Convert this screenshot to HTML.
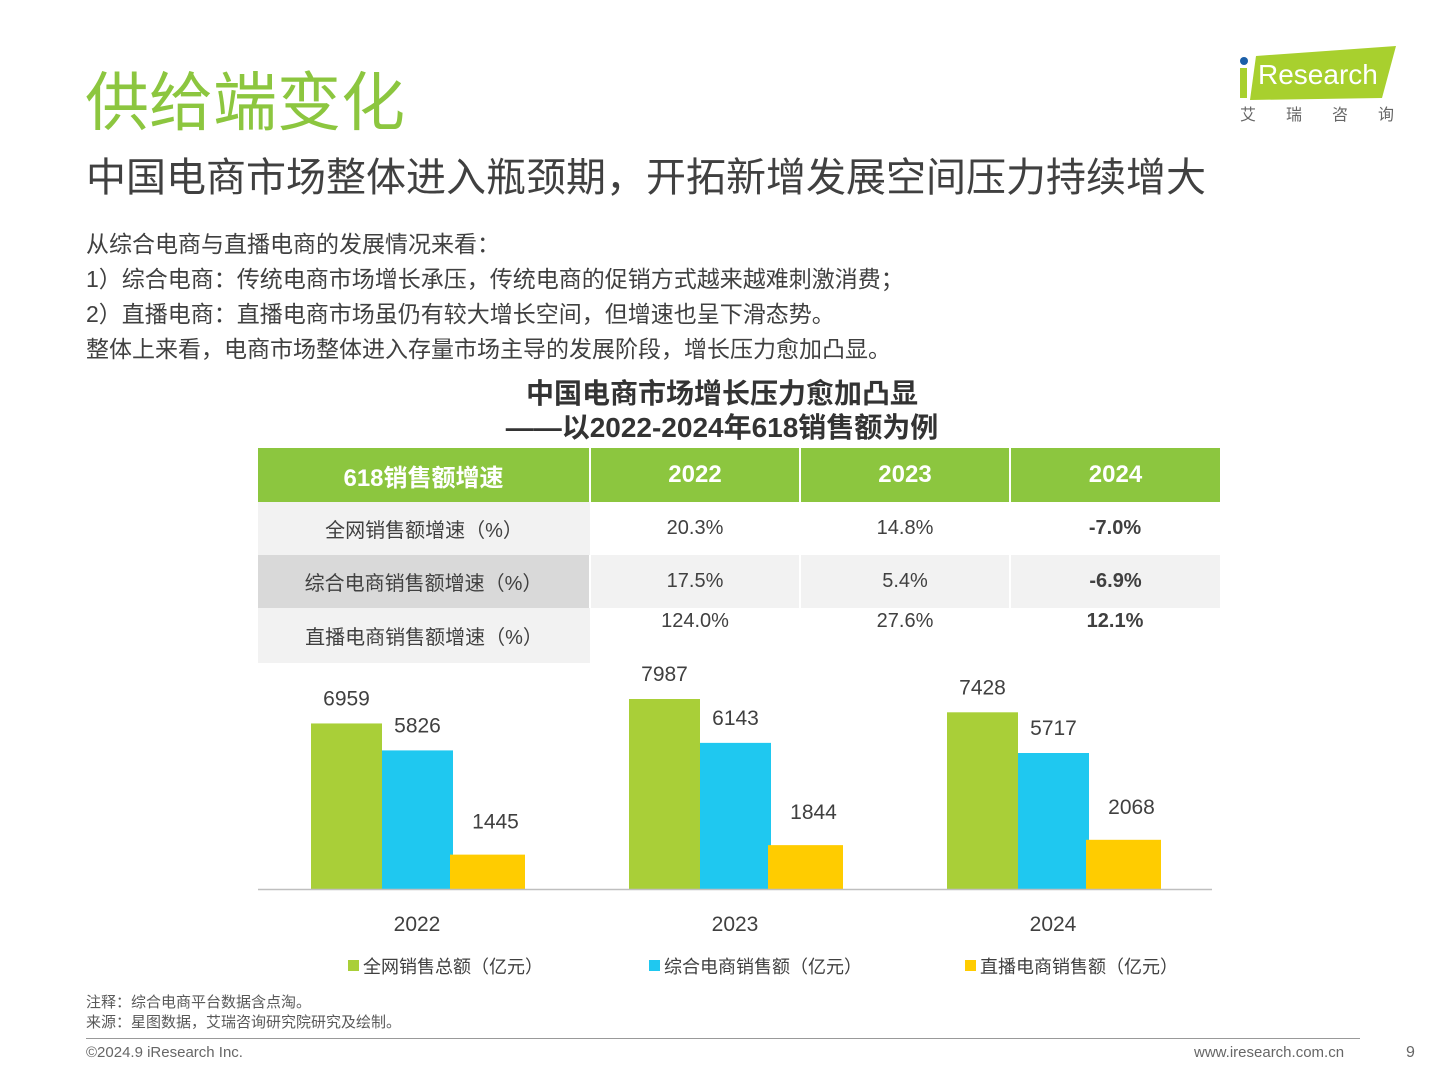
<!DOCTYPE html>
<html><head><meta charset="utf-8"><style>
body{margin:0;width:1440px;height:1080px;background:#fff;position:relative;overflow:hidden;font-family:"Liberation Sans","Noto Sans CJK SC",sans-serif;}
.a{position:absolute;white-space:nowrap;}
table{position:absolute;left:258px;top:448px;border-collapse:collapse;width:962px;table-layout:fixed;}
td{text-align:center;font-size:20px;color:#404040;height:53px;padding:0;}
th{background:#8cc63f;color:#fff;font-size:24px;height:52px;border-left:2px solid #fff;}
</style></head><body>
<div class="a" style="left:85px;top:52px;font-size:64px;color:#8cc63f;">供给端变化</div>
<div class="a" style="left:1238px;top:46px;width:162px;height:80px;">
<svg width="162" height="80"><polygon points="18,10 158,0 144,52 12,54" fill="#a8d02e"/><circle cx="6" cy="15" r="4" fill="#1b5fa8"/><rect x="2" y="22" width="7" height="30" fill="#a8d02e"/><text x="20" y="38" font-size="28" fill="#fff" font-family="Liberation Sans">Research</text><text x="2" y="74" font-size="16" fill="#666" font-family="Noto Sans CJK SC" letter-spacing="30">艾瑞咨询</text></svg></div>
<div class="a" style="left:86px;top:145px;font-size:40px;color:#404040;">中国电商市场整体进入瓶颈期，开拓新增发展空间压力持续增大</div>
<div class="a" style="left:86px;top:227px;font-size:23px;color:#404040;line-height:35px;">从综合电商与直播电商的发展情况来看：<br>1）综合电商：传统电商市场增长承压，传统电商的促销方式越来越难刺激消费；<br>2）直播电商：直播电商市场虽仍有较大增长空间，但增速也呈下滑态势。<br>整体上来看，电商市场整体进入存量市场主导的发展阶段，增长压力愈加凸显。</div>
<div class="a" style="left:0;width:1444px;text-align:center;top:377px;font-size:28px;font-weight:bold;color:#333;line-height:34px;">中国电商市场增长压力愈加凸显<br>——以2022-2024年618销售额为例</div>
<table>
<colgroup><col style="width:332px"><col style="width:210px"><col style="width:210px"><col style="width:210px"></colgroup>
<tr><th style="border-left:none">618销售额增速</th><th>2022</th><th>2023</th><th>2024</th></tr>
<tr><td style="background:#f2f2f2">全网销售额增速（%）</td><td>20.3%</td><td>14.8%</td><td style="font-weight:bold">-7.0%</td></tr>
<tr><td style="background:#d9d9d9">综合电商销售额增速（%）</td><td style="background:#f2f2f2;border-left:2px solid #fff">17.5%</td><td style="background:#f2f2f2;border-left:2px solid #fff">5.4%</td><td style="background:#f2f2f2;border-left:2px solid #fff;font-weight:bold">-6.9%</td></tr>
<tr><td style="background:#f2f2f2;height:52px">直播电商销售额增速（%）</td><td style="vertical-align:top;padding-top:2px">124.0%</td><td style="vertical-align:top;padding-top:2px">27.6%</td><td style="vertical-align:top;padding-top:2px;font-weight:bold">12.1%</td></tr>
</table>
<svg id="chart" class="a" style="left:0;top:0" width="1440" height="1080"></svg>
<div class="a" style="left:86px;top:993px;font-size:15px;color:#595959;line-height:20px;">注释：综合电商平台数据含点淘。<br>来源：星图数据，艾瑞咨询研究院研究及绘制。</div>
<div class="a" style="left:86px;top:1038px;width:1274px;height:1px;background:#999;"></div>
<div class="a" style="left:86px;top:1044px;font-size:15px;color:#666;">©2024.9 iResearch Inc.</div>
<div class="a" style="left:1194px;top:1044px;font-size:15px;color:#666;">www.iresearch.com.cn</div>
<div class="a" style="left:1406px;top:1044px;font-size:16px;color:#666;">9</div>
<script>
const years=["2022","2023","2024"];
const total=[6959,7987,7428];
const general=[5826,6143,5717];
const live=[1445,1844,2068];
const seriesNames=["全网销售总额（亿元）","综合电商销售额（亿元）","直播电商销售额（亿元）"];
const svg=document.getElementById('chart');const NS="http://www.w3.org/2000/svg";
const base=889,k=190/7987;
const y=v=>base-v*k;
const colors=["#a9cf38","#1fc8f0","#ffcc00"];
const offs=[0,71,139],widths=[71,71,75],lblUp=[18,18,26],lblDx=[0,0,8];
function mk(t,a){const e=document.createElementNS(NS,t);for(const p in a)e.setAttribute(p,a[p]);svg.appendChild(e);return e;}
const series=[total,general,live];
years.forEach((yr,i)=>{
 const gx=311+i*318;
 series.forEach((s,j)=>{
  const r=mk('rect',{x:gx+offs[j],y:y(s[i]),width:widths[j],height:s[i]*k,fill:colors[j]});
  
  
  const t=mk('text',{x:gx+offs[j]+widths[j]/2+lblDx[j],y:y(s[i])-lblUp[j],'text-anchor':'middle','font-size':21,fill:'#404040','font-family':'Liberation Sans'});
  t.textContent=s[i];
  
  
 });
 const l=mk('text',{x:gx+106,y:931,'text-anchor':'middle','font-size':21,fill:'#404040','font-family':'Liberation Sans'});
 l.textContent=yr;
 
 
});
const ax=mk('line',{x1:258,x2:1212,y1:base+0.5,y2:base+0.5,stroke:'#bfbfbf','stroke-width':1.5});


const lx=[348,649,965];
seriesNames.forEach((n,j)=>{
 const r=mk('rect',{x:lx[j],y:960,width:11,height:11,fill:colors[j]});
 
 
 const t=mk('text',{x:lx[j]+15,y:973,'font-size':18,fill:'#404040','font-family':'Noto Sans CJK SC'});
 t.textContent=n;
 
 
});
</script>
</body></html>
